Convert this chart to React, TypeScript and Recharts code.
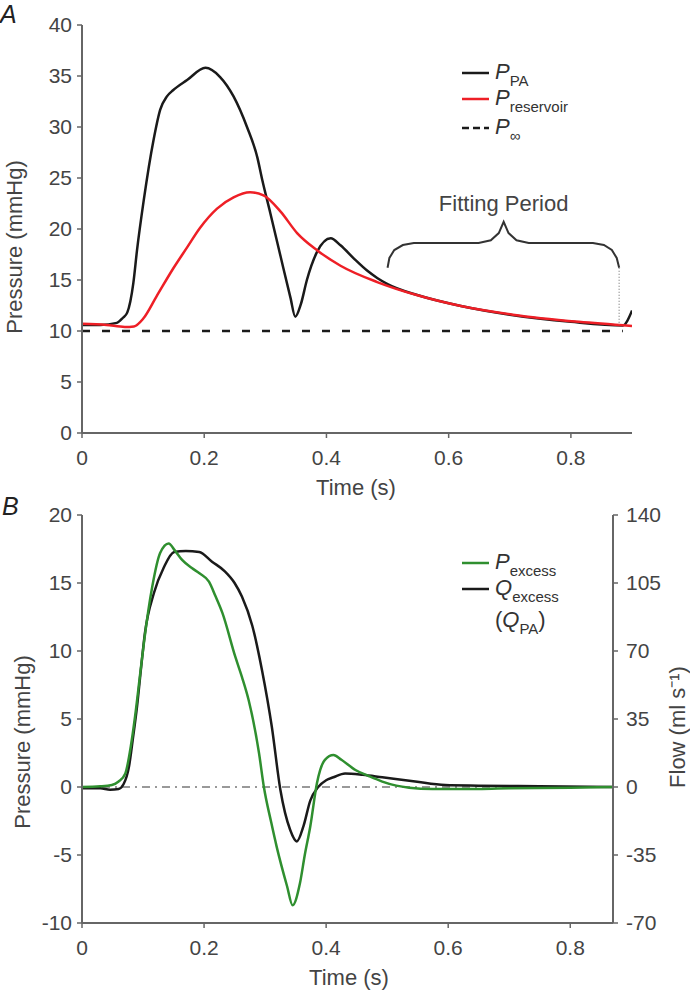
import React from 'react';
import { LineChart, Line, XAxis, YAxis, ReferenceLine, ReferenceDot, Legend } from 'recharts';

const FONT = '"Liberation Sans", Arial, Helvetica, sans-serif';
const AXIS = '#666';
const TEXT = '#444';
const BLACK = '#1a1a1a';
const RED = '#ee1f26';
const GREEN = '#2f8f2f';

// ---------- Panel A ----------
const xTicksA = [0, 0.2, 0.4, 0.6, 0.8];
const yTicksA = [0, 5, 10, 15, 20, 25, 30, 35, 40];

const ppaTime = [0, 0.03, 0.057, 0.067, 0.074, 0.084, 0.09, 0.101, 0.117, 0.128, 0.139, 0.149, 0.172, 0.202, 0.226, 0.248, 0.27, 0.287, 0.295, 0.308, 0.325, 0.341, 0.349, 0.358, 0.368, 0.385, 0.407, 0.423, 0.445, 0.467, 0.483, 0.5, 0.55, 0.62, 0.7, 0.8, 0.885, 0.9];
const ppaValue = [10.6, 10.6, 10.8, 11.3, 11.8, 14.7, 17.9, 22.8, 28.7, 31.7, 33.0, 33.6, 34.6, 35.8, 34.9, 33.0, 30.0, 27.0, 24.8, 21.6, 17.3, 13.3, 11.4, 12.6, 15.0, 17.8, 19.1, 18.4, 17.1, 15.9, 15.2, 14.6, 13.5, 12.45, 11.6, 10.9, 10.55, 12.0];

const resTime = [0, 0.04, 0.07, 0.085, 0.1, 0.122, 0.15, 0.172, 0.193, 0.221, 0.248, 0.275, 0.297, 0.325, 0.352, 0.385, 0.423, 0.483, 0.549, 0.62, 0.705, 0.813, 0.9];
const resValue = [10.7, 10.6, 10.4, 10.45, 11.2, 13.4, 16.2, 18.2, 20.1, 22.0, 23.1, 23.6, 23.3, 21.7, 19.6, 17.9, 16.4, 14.8, 13.5, 12.45, 11.6, 10.9, 10.5];

const pInfTime = [0, 0.885];
const pInfValue = [10, 10];

const braceTime = [0.5, 0.503, 0.511, 0.525, 0.543, 0.649, 0.669, 0.682, 0.69, 0.698, 0.711, 0.731, 0.836, 0.854, 0.867, 0.875, 0.879];
const braceValue = [16.2, 17.16, 17.94, 18.43, 18.63, 18.63, 18.9, 19.6, 20.7, 19.6, 18.9, 18.63, 18.63, 18.43, 17.94, 17.16, 16.2];
const fitEndTime = 0.879;
const fitEndTop = 16.2;
const fitEndBottom = 10.6;
const fitLabel = 'Fitting Period';
const fitLabelTime = 0.69;
const fitLabelValue = 22.55;

// ---------- Panel B ----------
const xTicksB = [0, 0.2, 0.4, 0.6, 0.8];
const yTicksB = [-10, -5, 0, 5, 10, 15, 20];
const yTicksBRight = [-70, -35, 0, 35, 70, 105, 140];

const pexTime = [0, 0.03, 0.049, 0.06, 0.071, 0.08, 0.087, 0.095, 0.102, 0.115, 0.128, 0.142, 0.152, 0.164, 0.18, 0.193, 0.208, 0.219, 0.23, 0.251, 0.262, 0.273, 0.29, 0.298, 0.31, 0.319, 0.336, 0.345, 0.357, 0.365, 0.374, 0.385, 0.398, 0.412, 0.425, 0.448, 0.47, 0.492, 0.515, 0.536, 0.574, 0.62, 0.7, 0.8, 0.87];
const pexValue = [0, 0.05, 0.15, 0.4, 1.0, 3.0, 5.2, 8.2, 10.8, 14.7, 17.2, 17.9, 17.4, 16.7, 16.1, 15.7, 15.1, 14.0, 12.8, 9.6, 8.1, 6.4, 2.5, 0, -2.6, -4.4, -7.3, -8.7, -7.1, -5.0, -2.9, 0.3, 2.0, 2.35, 2.0, 1.25, 0.8, 0.4, 0.1, -0.05, -0.15, -0.15, -0.1, -0.05, 0];

const qexTime = [0, 0.03, 0.046, 0.06, 0.068, 0.077, 0.083, 0.09, 0.097, 0.103, 0.118, 0.134, 0.151, 0.17, 0.192, 0.213, 0.234, 0.25, 0.262, 0.279, 0.295, 0.311, 0.325, 0.341, 0.352, 0.363, 0.374, 0.387, 0.4, 0.412, 0.431, 0.46, 0.492, 0.546, 0.595, 0.65, 0.75, 0.87];
const qexValue = [-0.7, -0.7, -1.4, -1, 1.4, 10.5, 24, 41, 62, 79, 100, 113, 121, 121.5, 121, 116, 111, 105, 98, 83, 60, 31, -1.4, -22, -28, -20, -7, 0, 3.5, 5, 7, 6.3, 5, 2.8, 1, 0.7, 0.4, 0];

const zip = (t: number[], v: number[]) => t.map((x, i) => ({ t: x, v: v[i] }));

const ppaData = zip(ppaTime, ppaValue);
const resData = zip(resTime, resValue);
const pInfData = zip(pInfTime, pInfValue);
const braceData = zip(braceTime, braceValue);
const pexData = zip(pexTime, pexValue);
const qexData = zip(qexTime, qexValue);

type Entry = { color?: string; dashed?: boolean; main: string; sub: string; paren?: boolean; top: number };

const legendA: Entry[] = [
  { color: BLACK, main: 'P', sub: 'PA', top: 13 },
  { color: RED, main: 'P', sub: 'reservoir', top: 39 },
  { color: BLACK, dashed: true, main: 'P', sub: '∞', top: 68 },
];
const legendB: Entry[] = [
  { color: GREEN, main: 'P', sub: 'excess', top: 13 },
  { color: BLACK, main: 'Q', sub: 'excess', top: 39 },
  { main: 'Q', sub: 'PA', paren: true, top: 71 },
];

function LegendBlock({ entries }: { entries: Entry[] }) {
  return (
    <div style={{ position: 'relative', width: 220, height: 100, fontFamily: FONT, color: '#333' }}>
      {entries.map((e, i) => (
        <div key={i} style={{ position: 'absolute', left: 0, top: e.top - 13, height: 26, display: 'flex', alignItems: 'center', whiteSpace: 'nowrap' }}>
          <svg width={27} height={6} style={{ display: 'block', visibility: e.color ? 'visible' : 'hidden' }}>
            <line x1={0} y1={3} x2={27} y2={3} stroke={e.color || 'none'} strokeWidth={2.5} strokeDasharray={e.dashed ? '7 4' : undefined} />
          </svg>
          <span style={{ marginLeft: 6, fontSize: 22, lineHeight: '26px' }}>
            {e.paren ? '(' : ''}
            <span style={{ fontStyle: 'italic' }}>{e.main}</span>
            <span style={{ fontSize: 15, position: 'relative', top: 7 }}>{e.sub}</span>
            {e.paren ? ')' : ''}
          </span>
        </div>
      ))}
    </div>
  );
}

function AxisTitle(props: any) {
  const { px, py, rot, text } = props;
  return (
    <text
      x={px}
      y={py}
      transform={rot ? `rotate(${rot} ${px} ${py})` : undefined}
      textAnchor="middle"
      dominantBaseline="central"
      fontSize={22}
      fontFamily={FONT}
      fill={TEXT}
    >
      {text}
    </text>
  );
}

const tickStyle = { fill: TEXT, fontSize: 21, fontFamily: FONT };
const axisLineStyle = { stroke: AXIS, strokeWidth: 2 };
const tickLineStyle = { stroke: AXIS, strokeWidth: 1.5 };
const fmt = (v: number) => String(v);

export default function App() {
  return (
    <div style={{ position: 'absolute', left: 0, top: 0, width: 690, height: 990, background: '#fff', fontFamily: FONT }}>
      <div style={{ position: 'absolute', left: 0, top: 2, fontSize: 25, lineHeight: '25px', fontStyle: 'italic', color: '#222' }}>A</div>
      <div style={{ position: 'absolute', left: 2, top: 494, fontSize: 25, lineHeight: '25px', fontStyle: 'italic', color: '#222' }}>B</div>

      <div style={{ position: 'absolute', left: 0, top: 0 }}>
        <LineChart width={690} height={500} margin={{ top: 25, right: 58, bottom: 0, left: 0 }}>
          <XAxis
            type="number"
            dataKey="t"
            domain={[0, 0.9]}
            ticks={xTicksA}
            tickFormatter={fmt}
            allowDataOverflow
            height={67}
            axisLine={axisLineStyle}
            tickLine={tickLineStyle}
            tickSize={5}
            tickMargin={12}
            tick={tickStyle}
            label={<AxisTitle px={356} py={487} text="Time (s)" />}
          />
          <YAxis
            type="number"
            domain={[0, 40]}
            ticks={yTicksA}
            width={82}
            axisLine={axisLineStyle}
            tickLine={tickLineStyle}
            tickSize={5}
            tickMargin={5}
            tick={tickStyle}
            label={<AxisTitle px={14} py={247} rot={-90} text="Pressure (mmHg)" />}
          />
          <Line data={pInfData} dataKey="v" type="linear" stroke={BLACK} strokeWidth={2.5} strokeDasharray="8 12" dot={false} isAnimationActive={false} />
          <Line data={ppaData} dataKey="v" type="monotone" stroke={BLACK} strokeWidth={2.5} dot={false} isAnimationActive={false} />
          <Line data={resData} dataKey="v" type="monotone" stroke={RED} strokeWidth={2.5} dot={false} isAnimationActive={false} />
          <Line data={braceData} dataKey="v" type="linear" stroke="#333" strokeWidth={2} dot={false} isAnimationActive={false} />
          <ReferenceLine
            segment={[{ x: fitEndTime, y: fitEndTop }, { x: fitEndTime, y: fitEndBottom }]}
            stroke="#999"
            strokeWidth={1.5}
            strokeDasharray="1 2"
          />
          <ReferenceDot
            x={fitLabelTime}
            y={fitLabelValue}
            r={0}
            fill="none"
            stroke="none"
            label={{ value: fitLabel, position: 'center', fill: TEXT, fontSize: 22, fontFamily: FONT }}
          />
          <Legend
            verticalAlign="middle"
            align="center"
            layout="horizontal"
            wrapperStyle={{ left: 462, top: 60, width: 220, height: 100 }}
            content={() => <LegendBlock entries={legendA} />}
          />
        </LineChart>
      </div>

      <div style={{ position: 'absolute', left: 0, top: 490 }}>
        <LineChart width={690} height={500} margin={{ top: 25, right: 0, bottom: 0, left: 0 }}>
          <XAxis
            type="number"
            dataKey="t"
            domain={[0, 0.87]}
            ticks={xTicksB}
            tickFormatter={fmt}
            allowDataOverflow
            height={67}
            axisLine={axisLineStyle}
            tickLine={tickLineStyle}
            tickSize={5}
            tickMargin={12}
            tick={tickStyle}
            label={<AxisTitle px={349} py={487} text="Time (s)" />}
          />
          <YAxis
            yAxisId="left"
            type="number"
            domain={[-10, 20]}
            ticks={yTicksB}
            width={82}
            axisLine={axisLineStyle}
            tickLine={tickLineStyle}
            tickSize={5}
            tickMargin={5}
            tick={tickStyle}
            label={<AxisTitle px={22} py={252} rot={-90} text="Pressure (mmHg)" />}
          />
          <YAxis
            yAxisId="right"
            orientation="right"
            type="number"
            domain={[-70, 140]}
            ticks={yTicksBRight}
            width={77}
            axisLine={axisLineStyle}
            tickLine={tickLineStyle}
            tickSize={5}
            tickMargin={8}
            tick={tickStyle}
            label={<AxisTitle px={677} py={237} rot={-90} text="Flow (ml s⁻¹)" />}
          />
          <ReferenceLine yAxisId="left" y={0} stroke="#999" strokeWidth={2} strokeDasharray="8 5 2 5" />
          <Line yAxisId="right" data={qexData} dataKey="v" type="monotone" stroke={BLACK} strokeWidth={2.5} dot={false} isAnimationActive={false} />
          <Line yAxisId="left" data={pexData} dataKey="v" type="monotone" stroke={GREEN} strokeWidth={2.5} dot={false} isAnimationActive={false} />
          <Legend
            verticalAlign="middle"
            align="center"
            layout="horizontal"
            wrapperStyle={{ left: 462, top: 60, width: 220, height: 100 }}
            content={() => <LegendBlock entries={legendB} />}
          />
        </LineChart>
      </div>
    </div>
  );
}
